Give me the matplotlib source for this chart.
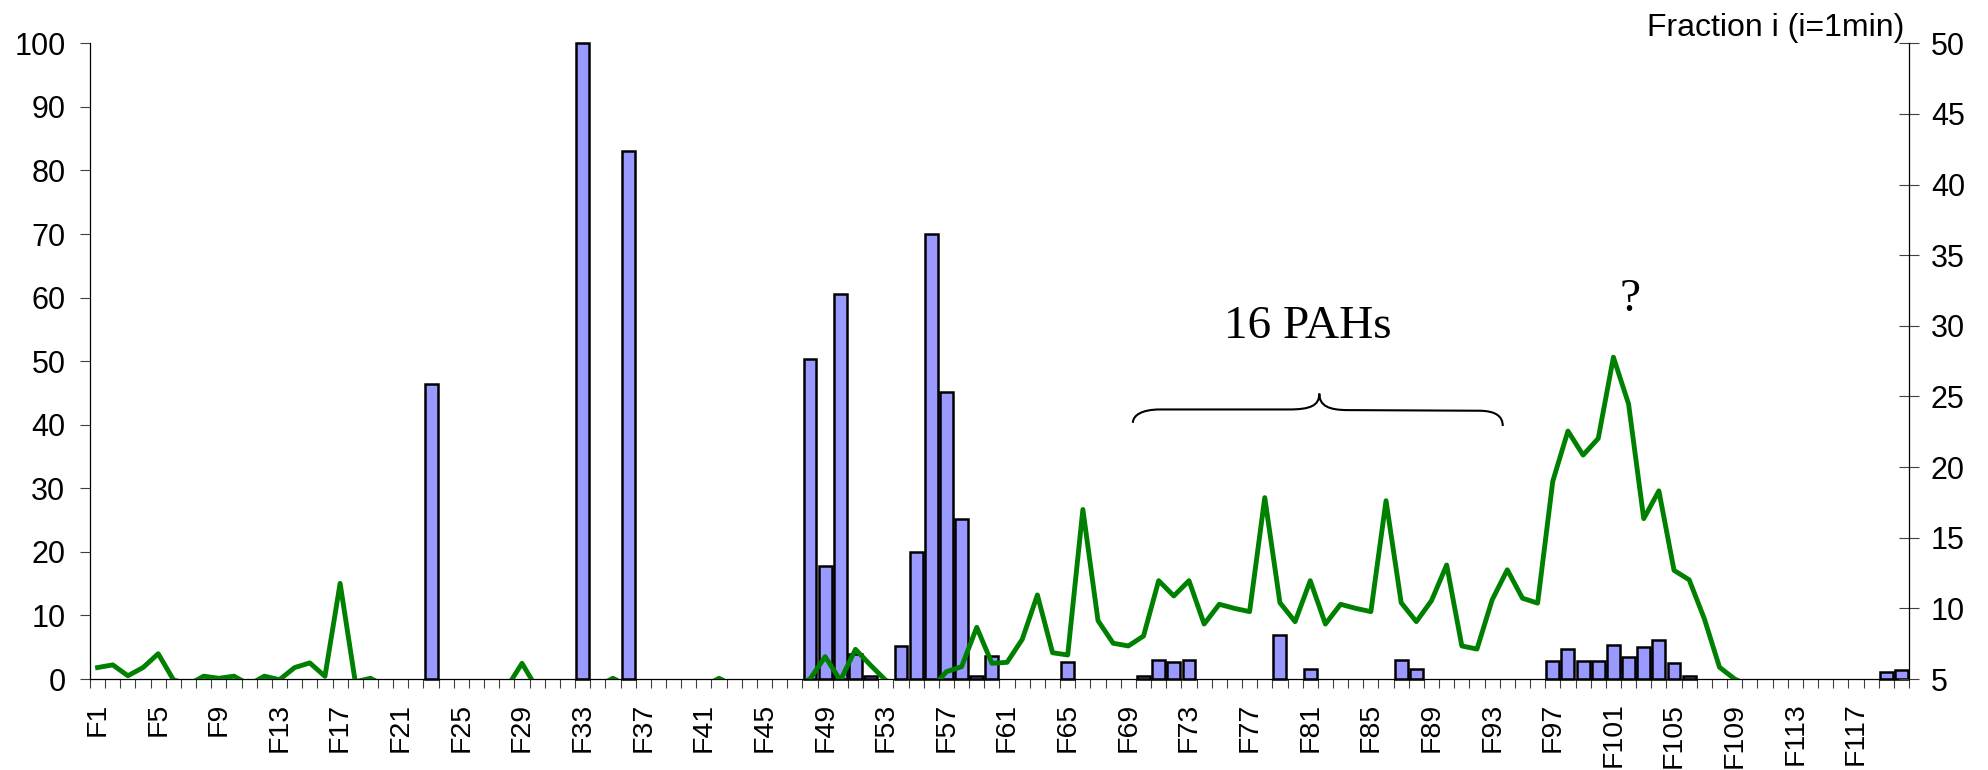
import numpy as np
import matplotlib
matplotlib.use('Agg')
import matplotlib.pyplot as plt
from matplotlib.path import Path
from matplotlib.patches import PathPatch

plt.rcParams['font.family'] = 'Liberation Sans'

# fractions F1..F120 (one per minute)
fractions = ['F%d' % i for i in range(1, 121)]

# bar series, left axis (0-100)
area = [
    0, 0, 0, 0, 0, 0, 0, 0, 0, 0,
    0, 0, 0, 0, 0, 0, 0, 0, 0, 0,
    0, 0, 46.4, 0, 0, 0, 0, 0, 0, 0,
    0, 0, 100, 0, 0, 83.0, 0, 0, 0, 0,
    0, 0, 0, 0, 0, 0, 0, 50.4, 17.8, 60.6,
    4.0, 0.5, 0, 5.2, 20.0, 70.0, 45.1, 25.1, 0.5, 3.6,
    0, 0, 0, 0, 2.6, 0, 0, 0, 0, 0.5,
    3.0, 2.6, 3.0, 0, 0, 0, 0, 0, 6.9, 0,
    1.5, 0, 0, 0, 0, 0, 3.0, 1.5, 0, 0,
    0, 0, 0, 0, 0, 0, 2.9, 4.7, 2.9, 2.9,
    5.4, 3.5, 5.0, 6.2, 2.5, 0.4, 0, 0, 0, 0,
    0, 0, 0, 0, 0, 0, 0, 0, 1.1, 1.4,
]

# line series, right axis (5-50)
signal = [
    5.81, 6.0, 5.23, 5.81, 6.79, 4.95, 4.6, 5.2, 5.05, 5.2,
    4.6, 5.2, 4.95, 5.81, 6.14, 5.19, 11.77, 4.8, 5.05, 4.5,
    4.5, 4.5, 4.5, 4.5, 4.5, 4.5, 4.5, 4.4, 6.11, 4.3,
    4.5, 4.5, 4.5, 4.5, 5.05, 4.5, 4.5, 4.5, 4.5, 4.5,
    4.5, 5.05, 4.5, 4.5, 4.5, 4.5, 4.5, 5.0, 6.58, 4.9,
    7.1, 5.97, 4.9, 4.5, 4.5, 4.3, 5.52, 5.87, 8.66, 6.11,
    6.18, 7.81, 10.95, 6.86, 6.7, 17.0, 9.13, 7.53, 7.34, 8.04,
    11.96, 10.88, 11.96, 8.89, 10.29, 10.0, 9.77, 17.84, 10.4, 9.06,
    11.96, 8.89, 10.29, 10.0, 9.77, 17.62, 10.4, 9.06, 10.55, 13.07,
    7.34, 7.12, 10.6, 12.73, 10.72, 10.37, 19.0, 22.55, 20.85, 22.03,
    27.78, 24.47, 16.35, 18.32, 12.69, 12.02, 9.26, 5.83, 5.0, 4.5,
    4.5, 4.5, 4.5, 4.5, 4.5, 4.5, 4.5, 4.5, 4.5, 4.5,
]

label_every = 4
tick_fs = 22

x = np.arange(1, len(fractions) + 1)
area = np.array(area)
signal = np.array(signal)

fig = plt.figure(figsize=(19.88, 7.70), dpi=100)
ax = fig.add_axes([0.04527, 0.11818, 0.91499, 0.82559])
ax2 = ax.twinx()

# bars (skip empty fractions)
mask = area > 0
ax.bar(x[mask], area[mask], width=0.85, color='#9999FF',
       edgecolor='black', linewidth=1.8, clip_on=False, zorder=2)

ax.set_xlim(0.5, len(fractions) + 0.5)
ax.set_ylim(0, 100)
ax.set_yticks(np.arange(0, 101, 10))
ax.tick_params(axis='y', direction='out', length=7.2, width=0.8,
               color='#404040', pad=10.5, labelsize=tick_fs)

# x: tick marks between categories, labels every 4th fraction
ax.set_xticks(np.arange(0.5, len(fractions) + 1, 1), minor=True)
ax.set_xticks(x[::label_every])
ax.set_xticklabels(fractions[::label_every], rotation=90)
ax.tick_params(axis='x', which='minor', direction='out', length=6.5,
               width=0.8, color='#404040')
ax.tick_params(axis='x', which='major', length=0, pad=17,
               labelsize=20.5)

for s in ['top', 'right']:
    ax.spines[s].set_visible(False)
ax.spines['left'].set_linewidth(0.9)
ax.spines['bottom'].set_linewidth(0.9)

# line on the right axis
ax2.plot(x, signal, color='#008000', linewidth=3.5, zorder=3)
ax2.set_ylim(5, 50)
ax2.set_yticks(np.arange(5, 51, 5))
ax2.tick_params(axis='y', direction='inout', length=14.4, width=0.8,
                color='#404040', pad=8.5, labelsize=tick_fs)
for s in ['top', 'left', 'bottom']:
    ax2.spines[s].set_visible(False)
ax2.spines['right'].set_linewidth(0.9)

# annotations
ax2.text(120.2, 5 + 0.45 * 101.15, 'Fraction i (i=1min)', ha='right',
         va='baseline', fontsize=23)
ax2.text(80.85, 5 + 0.45 * 53.6, '16 PAHs', ha='center', va='baseline',
         fontsize=34, family='Liberation Serif')
ax2.text(102.1, 5 + 0.45 * 57.9, '?', ha='center', va='baseline',
         fontsize=34, family='Liberation Serif')

# curly brace over the PAH region (left-axis units)
b_left, b_tip, b_right = 69.3, 81.6, 93.7
y_end_l, y_flat, y_tip, y_end_r = 40.3, 42.4, 44.9, 39.8
verts = [
    (b_left, y_end_l),
    (b_left, y_flat - 0.9), (b_left + 0.6, y_flat), (b_left + 1.8, y_flat),
    (b_tip - 2.0, y_flat),
    (b_tip - 0.6, y_flat), (b_tip, y_flat + 0.6), (b_tip, y_tip),
    (b_tip, y_flat + 0.6), (b_tip + 0.6, y_flat - 0.1), (b_tip + 1.9, y_flat - 0.1),
    (b_right - 1.6, y_flat - 0.2),
    (b_right - 0.5, y_flat - 0.2), (b_right, y_flat - 1.0), (b_right, y_end_r),
]
codes = [Path.MOVETO,
         Path.CURVE4, Path.CURVE4, Path.CURVE4,
         Path.LINETO,
         Path.CURVE4, Path.CURVE4, Path.CURVE4,
         Path.CURVE4, Path.CURVE4, Path.CURVE4,
         Path.LINETO,
         Path.CURVE4, Path.CURVE4, Path.CURVE4]
ax.add_patch(PathPatch(Path(verts, codes), facecolor='none',
                       edgecolor='black', linewidth=1.5, zorder=4))

fig.savefig('out.png', dpi=100)
